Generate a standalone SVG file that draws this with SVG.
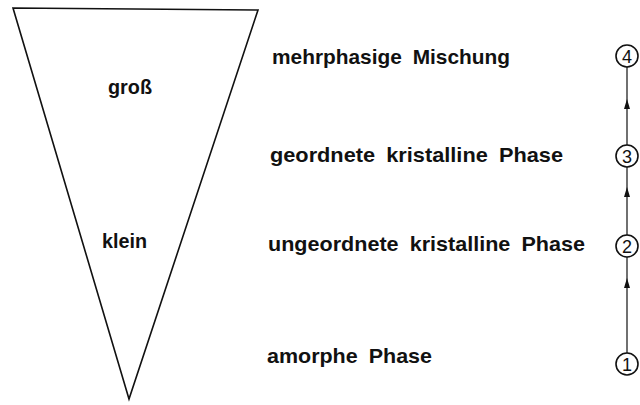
<svg xmlns="http://www.w3.org/2000/svg" width="640" height="405" viewBox="0 0 640 405">
<defs>
<style>
.lbl{font-family:"Liberation Sans",Arial,sans-serif;font-weight:bold;font-size:21px;fill:#111;word-spacing:5px}
.num{font-family:"Liberation Sans",Arial,sans-serif;font-size:18px;fill:#111;text-anchor:middle}
.node circle{fill:#fff;stroke:#111;stroke-width:1.6}
.edge{stroke:#111;stroke-width:1.2;fill:none}
.head{fill:#111}
</style>
</defs>
<rect width="640" height="405" fill="#fff"/>
<g id="triangle">
<polygon points="13,8 258,10 129,399" fill="none" stroke="#111" stroke-width="1.6"/>
<text class="lbl" x="108" y="94" textLength="44" lengthAdjust="spacingAndGlyphs">groß</text>
<text class="lbl" x="102" y="248" textLength="45" lengthAdjust="spacingAndGlyphs">klein</text>
</g>
<g id="labels">
<text class="lbl" x="272" y="64" textLength="238" lengthAdjust="spacingAndGlyphs">mehrphasige Mischung</text>
<text class="lbl" x="270" y="162" textLength="293" lengthAdjust="spacingAndGlyphs">geordnete kristalline Phase</text>
<text class="lbl" x="268" y="251" textLength="317" lengthAdjust="spacingAndGlyphs">ungeordnete kristalline Phase</text>
<text class="lbl" x="267" y="363" textLength="165" lengthAdjust="spacingAndGlyphs">amorphe Phase</text>
</g>
<g id="connectors">
<line class="edge" x1="627" y1="353" x2="627" y2="257"/>
<line class="edge" x1="627" y1="235" x2="627" y2="167"/>
<line class="edge" x1="627" y1="145" x2="627" y2="67"/>
<path class="head" d="M624,288 L627,278 L630,288 Z"/>
<path class="head" d="M624,197 L627,187 L630,197 Z"/>
<path class="head" d="M624,109 L627,99 L630,109 Z"/>
</g>
<g id="n1" class="node"><circle cx="627" cy="364" r="11"/><text class="num" x="627" y="370.5">1</text></g>
<g id="n2" class="node"><circle cx="627" cy="246" r="11"/><text class="num" x="627" y="252.5">2</text></g>
<g id="n3" class="node"><circle cx="627" cy="156" r="11"/><text class="num" x="627" y="162.5">3</text></g>
<g id="n4" class="node"><circle cx="627" cy="56" r="11"/><text class="num" x="627" y="62.5">4</text></g>
</svg>
